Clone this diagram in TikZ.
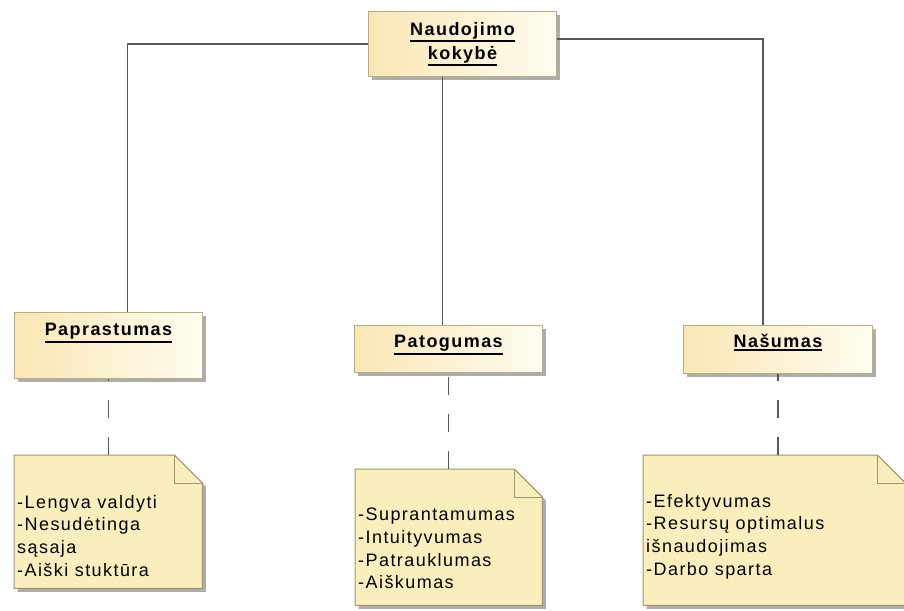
\documentclass[tikz,border=0pt]{standalone}
\usepackage{fontspec}
\newfontfamily\diafont{Liberation Sans}[LetterSpace=8.0]
\usetikzlibrary{shadows}

\definecolor{boxL}{RGB}{249,230,180}
\definecolor{boxR}{RGB}{255,253,240}
\definecolor{boxEdge}{RGB}{186,174,128}
\definecolor{noteFill}{RGB}{251,238,189}
\definecolor{noteEdge}{RGB}{160,150,108}
\definecolor{wire}{RGB}{88,88,88}

% bold title with a heavy underline
\newcommand\titleul[1]{\vtop{\hbox{#1}\kern1.6pt\hrule height 1.7pt}}

% note body with a folded top-right corner
\newcommand\dogear[1]{%
  \path[notebody] (#1.north west) -- ([xshift=-28pt]#1.north east)
    -- ([yshift=-28pt]#1.north east) -- (#1.south east) -- (#1.south west) -- cycle;
  \draw[noteEdge, line width=1pt] ([xshift=-28pt]#1.north east) |- ([yshift=-28pt]#1.north east);}

\tikzset{
  boxshadow/.style={drop shadow={shadow xshift=3.5pt, shadow yshift=-3.5pt, fill=black!32, opacity=1}},
  ubox/.style={rectangle, draw=boxEdge, line width=1pt, left color=boxL, right color=boxR,
    boxshadow, inner sep=0pt, anchor=north west,
    font=\diafont\bfseries\fontsize{18}{24}\selectfont},
  notebox/.style={rectangle, draw=none, inner sep=0pt, anchor=north west},
  notebody/.style={fill=noteFill, draw=noteEdge, line width=1pt, boxshadow},
  notetext/.style={anchor=north west, align=left, inner sep=0pt,
    font=\diafont\fontsize{18}{22.7}\selectfont},
  wire/.style={draw=wire, line width=1.3pt},
  dashwire/.style={wire, dash pattern=on 18pt off 19pt}
}

\begin{document}
\begin{tikzpicture}[x=1pt,y=-1pt]
\fill[white] (0,0) rectangle (904,610);
\useasboundingbox (0,0) rectangle (904,610);

% quality characteristics
\node[ubox, minimum width=188, minimum height=65, align=center] (use) at (368,11)
  {\titleul{Naudojimo}\\\titleul{kokybė}};
\node[ubox, minimum width=188, text height=23, text depth=43] (pap) at (14,312)
  {\titleul{Paprastumas}};
\node[ubox, minimum width=188, text height=22, text depth=25] (pat) at (354,325)
  {\titleul{Patogumas}};
\node[ubox, minimum width=189, text height=22, text depth=26] (nas) at (683,325)
  {\titleul{Našumas}};

% tree links
\coordinate (pj) at ([xshift=19pt]pap.north);
\coordinate (pm) at ([xshift=-6pt]pat.north);
\coordinate (nj) at ([xshift=-15pt]nas.north);
\coordinate (ue) at ([yshift=5pt]use.east);
\draw[wire] (use.west) -| (pj);
\draw[wire] (use.south -| pm) -- (pm);
\draw[wire] (ue) -| (nj);

% notes
\node[notebox, minimum width=188, minimum height=133] (n1) at (14,455) {};
\node[notebox, minimum width=187, minimum height=136] (n2) at (355,469) {};
\node[notebox, minimum width=262, minimum height=150] (n3) at (643,455) {};
\dogear{n1}
\dogear{n2}
\dogear{n3}

\node[notetext] (t1) at ([xshift=3pt, yshift=-40pt]n1.north west)
  {-Lengva valdyti\\-Nesudėtinga\\sąsaja\\-Aiški stuktūra};
\node[notetext] (t2) at ([xshift=3pt, yshift=-39pt]n2.north west)
  {-Suprantamumas\\-Intuityvumas\\-Patrauklumas\\-Aiškumas};
\node[notetext] (t3) at ([xshift=3pt, yshift=-39pt]n3.north west)
  {-Efektyvumas\\-Resursų optimalus\\išnaudojimas\\-Darbo sparta};

% note anchors
\draw[dashwire] (n1.north -| pap.south) -- (pap.south);
\draw[dashwire] (n2.north -| pat.south) -- (pat.south);
\draw[dashwire] (n3.north -| nas.south) -- (nas.south);
\end{tikzpicture}
\end{document}
